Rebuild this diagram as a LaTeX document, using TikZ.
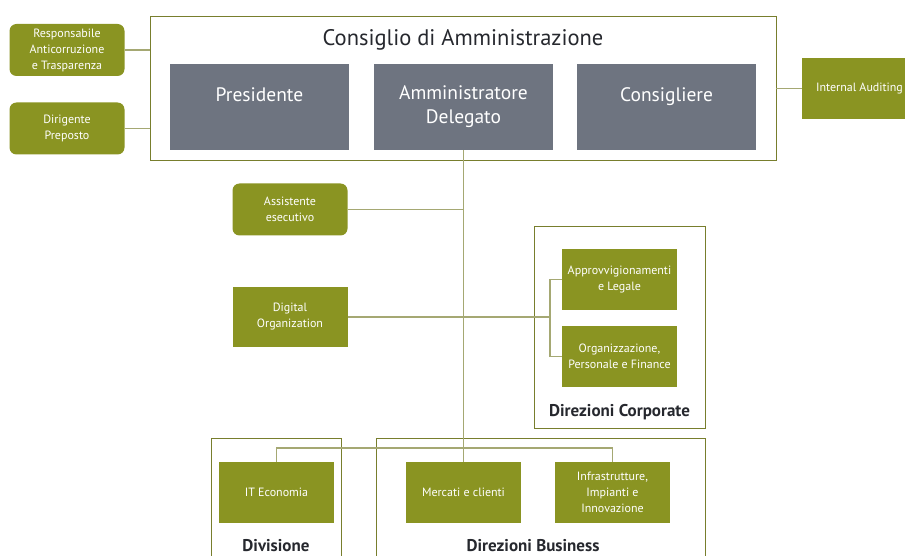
\documentclass[tikz,border=0pt]{standalone}
\usepackage{fontspec}
\setmainfont{PT Sans}
\definecolor{olivebox}{RGB}{138,148,34}
\definecolor{slatebox}{RGB}{110,116,128}
\definecolor{linkline}{RGB}{165,168,115}
\definecolor{frameline}{RGB}{120,126,45}
\definecolor{titletext}{RGB}{38,40,46}
\tikzset{
  greenbox/.style={fill=olivebox, text=white, align=center, inner sep=0pt,
    font=\fontsize{12}{16}\selectfont, minimum width=115, minimum height=61},
  roundbox/.style={greenbox, rounded corners=7pt, minimum height=52},
  greybox/.style={fill=slatebox, text=white, align=center, inner sep=0pt,
    font=\fontsize{19.5}{24}\selectfont, minimum width=179, minimum height=86},
  groupframe/.style={draw=frameline, line width=0.9pt, inner sep=0pt},
  link/.style={draw=linkline, line width=1.3pt},
  grouptitle/.style={text=titletext, font=\bfseries\fontsize{17}{19}\selectfont}
}
\begin{document}
\begin{tikzpicture}[x=1pt,y=-1pt]
                \useasboundingbox (0,0) rectangle (905,556);
                % board
                \node[groupframe, minimum width=626, minimum height=144] (cda) at (463,88) {};
                \node[text=titletext, font=\fontsize{22.5}{26}\selectfont] (cdatitle) at (463,40) {Consiglio di Amministrazione};
                \node[greybox] (pres) at (259.5,107) {Presidente\\~};
                \node[greybox] (ad) at (463.5,107) {Amministratore\\Delegato};
                \node[greybox] (cons) at (666.5,107) {Consigliere\\~};
                % staff
                \node[roundbox] (resp) at (67,50) {Responsabile\\Anticorruzione\\e Trasparenza};
                \node[roundbox] (dirig) at (67,128.5) {Dirigente\\Preposto};
                \node[greenbox] (audit) at (859.5,88.5) {Internal Auditing};
                \node[roundbox] (assist) at (290,209.5) {Assistente\\esecutivo};
                \node[greenbox, minimum height=60] (digital) at (290,317) {Digital\\Organization};
                % corporate
                \node[groupframe, minimum width=171, minimum height=202] (corp) at (619.5,327) {};
                \node[greenbox] (appr) at (619.5,279.5) {Approvvigionamenti\\e Legale};
                \node[greenbox] (orgfin) at (619.5,356.5) {Organizzazione,\\Personale e Finance};
                \node[grouptitle] (corptitle) at (619.5,412) {Direzioni Corporate};
                % business
                \node[groupframe, minimum width=130, minimum height=150] (div) at (276,513) {};
                \node[groupframe, minimum width=329, minimum height=150] (bus) at (540.5,513) {};
                \node[greenbox] (itec) at (276.5,492.5) {IT Economia};
                \node[greenbox] (merc) at (463.5,492.5) {Mercati e clienti};
                \node[greenbox] (infra) at (612.5,492.5) {Infrastrutture,\\Impianti e\\Innovazione};
                \node[grouptitle] (divtitle) at (276,545.5) {Divisione};
                \node[grouptitle] (bustitle) at (533,545.5) {Direzioni Business};
                % connectors
                \coordinate (brk) at (550,317);
                \coordinate (busline) at (463,448);
                \draw[link] (resp.east) -- (resp.east -| cda.west);
                \draw[link] (dirig.east) -- (dirig.east -| cda.west);
                \draw[link] (audit.west -| cda.east) -- (audit.west);
                \draw[link] (ad.south) -- (merc.north);
                \draw[link] (assist.east) -- (assist.east -| ad.south);
                \draw[link] (digital.east) -- (brk);
                \draw[link] (appr.west) -- (appr.west -| brk) -- (orgfin.west -| brk) -- (orgfin.west);
                \draw[link] (itec.north) |- (busline) -| (infra.north);
            \end{tikzpicture}
\end{document}
